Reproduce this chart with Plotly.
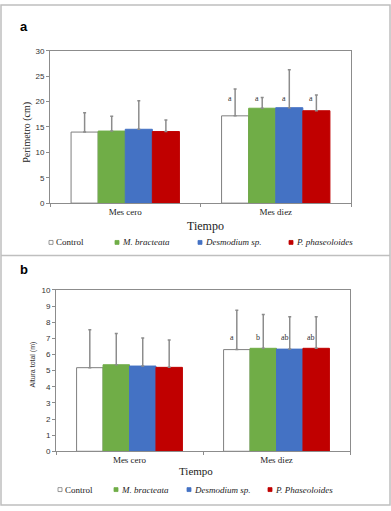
import plotly.graph_objects as go

# ---------------- data ----------------
categories = ["Mes cero", "Mes diez"]
series_a = ["Control", "M. bracteata", "Desmodium sp.", "P. phaseoloides"]
series_b = ["Control", "M. bracteata", "Desmodium sp.", "P. Phaseoloides"]

perimetro_control = [14.0, 17.2]
perimetro_bracteata = [14.2, 18.7]
perimetro_desmodium = [14.55, 18.8]
perimetro_phaseoloides = [14.1, 18.2]
perimetro_control_top = [17.8, 22.5]
perimetro_bracteata_top = [17.1, 20.8]
perimetro_desmodium_top = [20.15, 26.3]
perimetro_phaseoloides_top = [16.4, 21.3]
perimetro_letters = [["", "a"], ["", "a"], ["", "a"], ["", "a"]]
perimetro_letter_y = 20.6

altura_control = [5.18, 6.30]
altura_bracteata = [5.36, 6.38]
altura_desmodium = [5.28, 6.33]
altura_phaseoloides = [5.20, 6.38]
altura_control_top = [7.53, 8.73]
altura_bracteata_top = [7.29, 8.47]
altura_desmodium_top = [7.02, 8.33]
altura_phaseoloides_top = [6.90, 8.34]
altura_letters = [["", "a"], ["", "b"], ["", "ab"], ["", "ab"]]
altura_letter_y = 7.05

yticks_a = [0, 5, 10, 15, 20, 25, 30]
yticks_b = [0, 1, 2, 3, 4, 5, 6, 7, 8, 9, 10]

# ---------------- style ----------------
W, H = 391, 511
colors = ["#FFFFFF", "#70AD47", "#4472C4", "#C00000"]
line_colors = ["#7F7F7F", "#70AD47", "#4472C4", "#C00000"]
err_color = "#8C8C8C"
SANS = "Liberation Sans, Arial, sans-serif"
SERIF = "Liberation Serif, Times New Roman, serif"
TXT = "#222222"
BARGAP = 0.28

def px_x(x):
    return x / W

def px_y(y):
    return 1 - y / H

fig = go.Figure()

panels = [
    dict(xa="x", ya="y", vals=[perimetro_control, perimetro_bracteata, perimetro_desmodium, perimetro_phaseoloides],
         tops=[perimetro_control_top, perimetro_bracteata_top, perimetro_desmodium_top, perimetro_phaseoloides_top],
         names=series_a, letters=perimetro_letters, letter_y=perimetro_letter_y,
         xdom=[px_x(50), px_x(351)], ydom=[px_y(202.7), px_y(47.7)]),
    dict(xa="x2", ya="y2", vals=[altura_control, altura_bracteata, altura_desmodium, altura_phaseoloides],
         tops=[altura_control_top, altura_bracteata_top, altura_desmodium_top, altura_phaseoloides_top],
         names=series_b, letters=altura_letters, letter_y=altura_letter_y,
         xdom=[px_x(56), px_x(350)], ydom=[px_y(455.3), px_y(291)]),
]

for p in panels:
    for i, (vals, tops) in enumerate(zip(p["vals"], p["tops"])):
        fig.add_trace(go.Bar(
            x=categories, y=vals, name=p["names"][i], xaxis=p["xa"], yaxis=p["ya"],
            marker=dict(color=colors[i], line=dict(color=line_colors[i], width=1)),
            error_y=dict(type="data", symmetric=False,
                         array=[t - v for t, v in zip(tops, vals)],
                         arrayminus=[0] * len(vals),
                         color=err_color, thickness=1.5, width=1.5),
            showlegend=False,
        ))
    # significance letters
    cat_w = (p["xdom"][1] - p["xdom"][0]) * W / len(categories)
    bar_w = cat_w * (1 - BARGAP) / 4
    for i in range(4):
        for j, cat in enumerate(categories):
            txt = p["letters"][i][j]
            if not txt:
                continue
            fig.add_annotation(x=cat, y=p["letter_y"], xref=p["xa"], yref=p["ya"],
                               text=txt, showarrow=False,
                               xshift=(i - 1.5) * bar_w - 5,
                               font=dict(family=SERIF, size=8, color="#333333"))

axis_common = dict(showline=True, linecolor="#8C8C8C", linewidth=1, mirror=True,
                   showgrid=False, zeroline=False, fixedrange=True)

fig.update_layout(
    width=W, height=H, margin=dict(l=0, r=0, t=0, b=0, pad=0),
    paper_bgcolor="white", plot_bgcolor="white",
    barmode="group", bargap=BARGAP, bargroupgap=0,
    showlegend=False, hovermode=False,
    xaxis=dict(domain=panels[0]["xdom"], anchor="y", tickson="boundaries", ticks="outside",
               ticklen=3, tickcolor="#8C8C8C",
               tickfont=dict(family=SERIF, size=9, color=TXT), **axis_common),
    yaxis=dict(domain=panels[0]["ydom"], anchor="x", range=[0, 30], tickvals=yticks_a,
               ticks="outside", ticklen=3, tickcolor="#8C8C8C",
               tickfont=dict(family=SANS, size=8, color="#333333"), **axis_common),
    xaxis2=dict(domain=panels[1]["xdom"], anchor="y2", tickson="boundaries", ticks="outside",
                ticklen=3, tickcolor="#8C8C8C",
                tickfont=dict(family=SERIF, size=9, color=TXT), **axis_common),
    yaxis2=dict(domain=panels[1]["ydom"], anchor="x2", range=[0, 10], tickvals=yticks_b,
                ticks="outside", ticklen=3, tickcolor="#8C8C8C",
                tickfont=dict(family=SANS, size=8, color="#333333"), **axis_common),
)

# axis titles
def paper_text(x, y, text, font, angle=0, xanchor="center"):
    fig.add_annotation(x=px_x(x), y=px_y(y), xref="paper", yref="paper", text=text,
                       showarrow=False, xanchor=xanchor, yanchor="middle", textangle=angle, font=font)

paper_text(205, 226, "Tiempo", dict(family=SERIF, size=12, color=TXT))
paper_text(196, 475, "Tiempo", dict(family=SERIF, size=11, color=TXT))
paper_text(27, 130, "Perimetro (cm)", dict(family=SERIF, size=10, color=TXT), angle=-90)
paper_text(33, 367, "Altura total (m)", dict(family=SANS, size=7, color="#333333"), angle=-90)

# outer frames
frame = "#BFBFBF"
fig.add_shape(type="rect", xref="paper", yref="paper", x0=px_x(1), x1=px_x(390), y0=px_y(510), y1=px_y(1),
              line=dict(color=frame, width=1.5))
fig.add_shape(type="line", xref="paper", yref="paper", x0=px_x(1), x1=px_x(390), y0=px_y(256), y1=px_y(256),
              line=dict(color=frame, width=1.5))

# panel letters
paper_text(18, 23, "<b>a</b>", dict(family=SANS, size=13, color="black"), xanchor="left")
paper_text(18, 270, "<b>b</b>", dict(family=SANS, size=13, color="black"), xanchor="left")

# custom legends
legend_rows = [
    (242.7, series_a, [49, 115, 198, 289]),
    (494.3, series_b, [58, 114, 187, 268]),
]
for ly, names, xs in legend_rows:
    for i, (nm, lx) in enumerate(zip(names, xs)):
        fig.add_shape(type="rect", xref="paper", yref="paper",
                      x0=px_x(lx), x1=px_x(lx + 4), y0=px_y(ly + 2), y1=px_y(ly - 2),
                      fillcolor=colors[i], line=dict(color=line_colors[i], width=0.8))
        label = nm if i == 0 else "<i>" + nm + "</i>"
        paper_text(lx + 5, ly, label, dict(family=SERIF, size=9, color=TXT), xanchor="left")

fig.write_html("out.html", config={"displayModeBar": False, "responsive": False},
               post_script="document.body.style.margin='0';document.body.style.overflow='hidden';")
